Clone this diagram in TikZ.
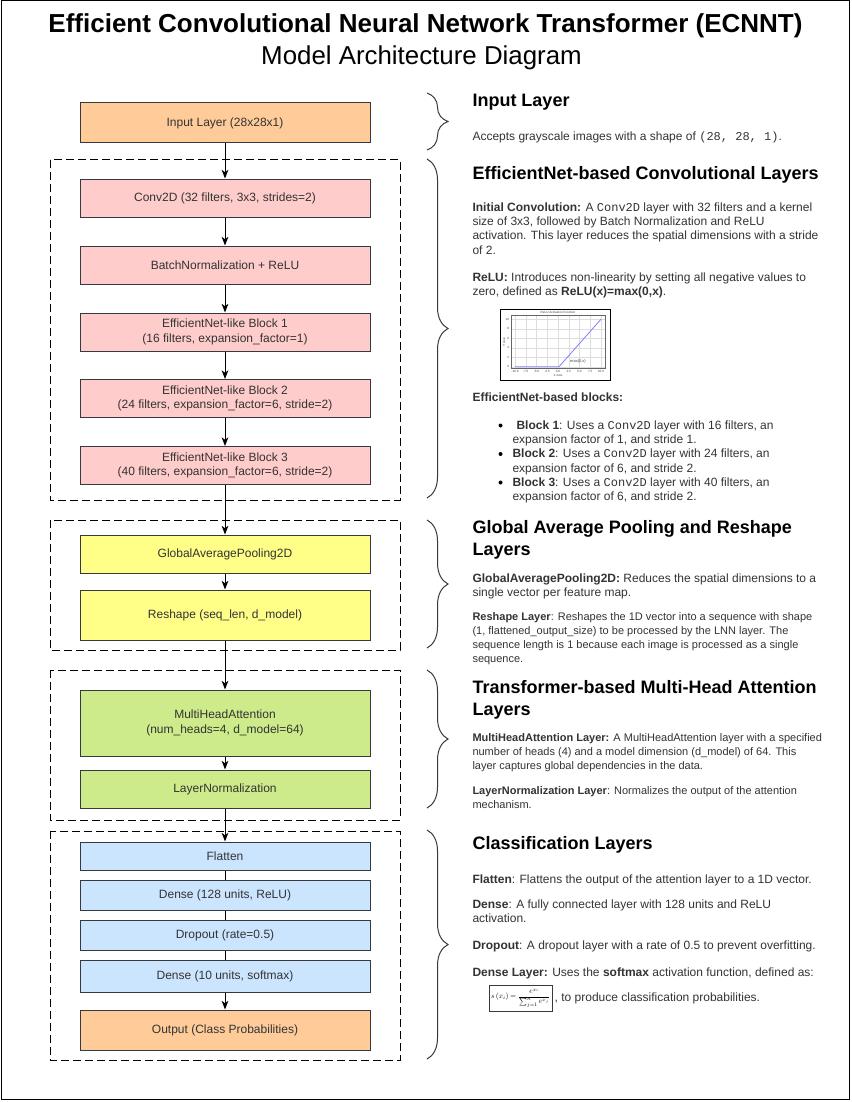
\documentclass[tikz,border=0pt]{standalone}
\usepackage{fontspec}
\setmainfont{Liberation Sans}
\setmonofont{Liberation Mono}
\usetikzlibrary{arrows.meta,decorations.pathreplacing,positioning}

\definecolor{inputorange}{HTML}{FFCC99}
\definecolor{convpink}{HTML}{FFCCCC}
\definecolor{poolyellow}{HTML}{FFFF88}
\definecolor{attgreen}{HTML}{CDEB8B}
\definecolor{clsblue}{HTML}{CCE5FF}
\definecolor{edgegray}{HTML}{36393D}
\definecolor{txtgray}{HTML}{333333}
\definecolor{gridgray}{HTML}{DDDDDD}
\definecolor{relublue}{HTML}{7F7FFF}

\begin{document}
\begin{tikzpicture}[x=0.75pt,y=-0.75pt,line width=0.75pt,
	layer/.style={draw=edgegray, minimum width=217.5pt, inner sep=2pt, align=center, text=txtgray, font=\fontsize{9}{11}\selectfont},
	group/.style={draw=black, dash pattern=on 6pt off 3pt},
	flow/.style={-{Stealth[length=6.5pt,width=5pt,inset=1.8pt]}, black},
	brace/.style={draw=edgegray, decorate, decoration={brace, amplitude=15.75pt}},
	head/.style={anchor=north west, inner sep=0pt, align=left, font=\fontsize{13.5}{16.5}\selectfont\bfseries},
	desc/.style={anchor=north west, inner sep=0pt, align=left, text=txtgray, font=\fontsize{9}{10.8}\selectfont},
	smalldesc/.style={desc, font=\fontsize{8.25}{10.5}\selectfont},
	dot/.style={circle, fill=black, inner sep=0pt, minimum size=3pt},
	plotlabel/.style={inner sep=0pt, text=black!75, font=\fontsize{2.3}{2.6}\selectfont}]
	\useasboundingbox (0,0) rectangle (852,1102);
	\draw (1,1) rectangle (849,1099); %frame

	%title
	\node[font=\fontsize{19.5}{22}\selectfont\bfseries, anchor=base] (title) at (425.5,32.5) {Efficient Convolutional Neural Network Transformer (ECNNT)};
	\node[font=\fontsize{19.4}{22}\selectfont, anchor=base] (subtitle) at (421.5,65) {Model Architecture Diagram};

	%groups
	\draw[group] (50,160) rectangle (400,500); %conv
	\draw[group] (50,520) rectangle (400,650); %pooling
	\draw[group] (50,670) rectangle (400,820); %attention
	\draw[group] (50,831) rectangle (400,1060); %classification

	%layers
	\node[layer, fill=inputorange, minimum height=30pt] (input) at (225,123) {Input Layer (28x28x1)};
	\node[layer, fill=convpink, minimum height=28.5pt] (conv) at (225,198) {Conv2D (32 filters, 3x3, strides=2)};
	\node[layer, fill=convpink, minimum height=28.5pt] (bnrelu) at (225,265) {BatchNormalization + ReLU};
	\node[layer, fill=convpink, minimum height=28.5pt] (blockone) at (225,332) {EfficientNet-like Block 1\\(16 filters, expansion\_factor=1)};
	\node[layer, fill=convpink, minimum height=28.5pt] (blocktwo) at (225,398.5) {EfficientNet-like Block 2\\(24 filters, expansion\_factor=6, stride=2)};
	\node[layer, fill=convpink, minimum height=28.5pt] (blockthree) at (225,465.5) {EfficientNet-like Block 3\\(40 filters, expansion\_factor=6, stride=2)};
	\node[layer, fill=poolyellow, minimum height=28.5pt] (gap) at (225,554) {GlobalAveragePooling2D};
	\node[layer, fill=poolyellow, minimum height=37.5pt] (reshape) at (225,615) {Reshape (seq\_len, d\_model)};
	\node[layer, fill=attgreen, minimum height=49.5pt] (mha) at (225,723) {MultiHeadAttention\\(num\_heads=4, d\_model=64)};
	\node[layer, fill=attgreen, minimum height=28.5pt] (layernorm) at (225,789) {LayerNormalization};
	\node[layer, fill=clsblue, minimum height=21pt] (flatten) at (225,856) {Flatten};
	\node[layer, fill=clsblue, minimum height=22.5pt] (denseone) at (225,895) {Dense (128 units, ReLU)};
	\node[layer, fill=clsblue, minimum height=22.5pt] (dropout) at (225,935) {Dropout (rate=0.5)};
	\node[layer, fill=clsblue, minimum height=24pt] (densetwo) at (225,976) {Dense (10 units, softmax)};
	\node[layer, fill=inputorange, minimum height=30pt] (output) at (225,1030) {Output (Class Probabilities)};

	%connectors
	\draw[flow] (input) -- (conv);
	\draw[flow] (conv) -- (bnrelu);
	\draw[flow] (bnrelu) -- (blockone);
	\draw[flow] (blockone) -- (blocktwo);
	\draw[flow] (blocktwo) -- (blockthree);
	\draw[flow] (blockthree) -- (gap);
	\draw[flow] (gap) -- (reshape);
	\draw[flow] (reshape) -- (mha);
	\draw[flow] (mha) -- (layernorm);
	\draw[flow] (layernorm) -- (flatten);
	\draw (flatten) -- (denseone);
	\draw (denseone) -- (dropout);
	\draw (dropout) -- (densetwo);
	\draw[flow] (densetwo) -- (output);

	%braces
	\draw[brace] (427,93) -- (427,150);
	\draw[brace] (427,159) -- (427,498);
	\draw[brace] (427,520) -- (427,648);
	\draw[brace] (427,670) -- (427,808);
	\draw[brace] (427,830) -- (427,1059);

	%input text
	\node[head] (hinput) at (472,94) {Input Layer};
	\node[desc] (dinput) at (472,131) {Accepts grayscale images with a shape of \texttt{(28, 28, 1)}.};

	%conv text
	\node[head] (hconv) at (472,166) {EfficientNet-based Convolutional Layers};
	\node[desc] (dinit) at (472,202) {\textbf{Initial Convolution:} A \texttt{Conv2D} layer with 32 filters and a kernel\\size of 3x3, followed by Batch Normalization and ReLU\\activation. This layer reduces the spatial dimensions with a stride\\of 2.};
	\node[desc] (drelu) at (472,272) {\textbf{ReLU:} Introduces non-linearity by setting all negative values to\\zero, defined as \textbf{ReLU(x)=max(0,x)}.};

	%relu plot
	\draw (500,309.5) rectangle (610,380);
	\foreach \gx in {-10,-7.5,...,10} \draw[gridgray, line width=0.3pt] ({558+4.3*\gx},315) -- ({558+4.3*\gx},368);
	\foreach \gy in {0,2,...,10} \draw[gridgray, line width=0.3pt] (511,{366.7-4.75*\gy}) -- (605,{366.7-4.75*\gy});
	\draw[black!60, line width=0.3pt] (511,315) rectangle (605,368.5);
	\draw[relublue, line width=0.6pt] (515,366.7) -- (559,366.7) -- (601,319.2);
	\node[plotlabel] (relutitle) at (558,312.5) {ReLU Activation Function};
	\foreach \gx/\gl in {-10/-10.0,-7.5/-7.5,-5/-5.0,-2.5/-2.5,0/0.0,2.5/2.5,5/5.0,7.5/7.5,10/10.0} \node[plotlabel] at ({558+4.3*\gx},371.5) {\gl};
	\foreach \gy in {0,2,...,10} \node[plotlabel, anchor=east] at (509.5,{366.7-4.75*\gy}) {\gy};
	\node[plotlabel] (xaxis) at (558,375.5) {X Axis};
	\node[plotlabel, rotate=90] (yaxis) at (504,342) {Y Axis};
	\node[plotlabel, font=\fontsize{3}{3.5}\selectfont] (relulegend) at (578,361) {max(0,x)};

	%blocks text
	\node[desc] (dblocks) at (472,392) {\textbf{EfficientNet-based blocks:}};
	\node[dot] (dotone) at (500.5,425.5) {};
	\node[desc] (bone) at (512,420) {\hspace*{3pt}\textbf{Block 1}: Uses a \texttt{Conv2D} layer with 16 filters, an\\expansion factor of 1, and stride 1.};
	\node[dot] (dottwo) at (500.5,454) {};
	\node[desc] (btwo) at (512,448.5) {\textbf{Block 2}: Uses a \texttt{Conv2D} layer with 24 filters, an\\expansion factor of 6, and stride 2.};
	\node[dot] (dotthree) at (500.5,482.5) {};
	\node[desc] (bthree) at (512,477) {\textbf{Block 3}: Uses a \texttt{Conv2D} layer with 40 filters, an\\expansion factor of 6, and stride 2.};

	%pooling text
	\node[head] (hpool) at (472,520) {Global Average Pooling and Reshape\\Layers};
	\node[desc] (dgap) at (472,573) {\textbf{GlobalAveragePooling2D:} Reduces the spatial dimensions to a\\single vector per feature map.};
	\node[smalldesc] (dreshape) at (472,612.5) {\textbf{Reshape Layer}: Reshapes the 1D vector into a sequence with shape\\(1, flattened\_output\_size) to be processed by the LNN layer. The\\sequence length is 1 because each image is processed as a single\\sequence.};

	%attention text
	\node[head] (hatt) at (472,680) {Transformer-based Multi-Head Attention\\Layers};
	\node[smalldesc] (dmha) at (472,733.5) {\textbf{MultiHeadAttention Layer:} A MultiHeadAttention layer with a specified\\number of heads (4) and a model dimension (d\_model) of 64. This\\layer captures global dependencies in the data.};
	\node[smalldesc] (dln) at (472,786.5) {\textbf{LayerNormalization Layer}: Normalizes the output of the attention\\mechanism.};

	%classification text
	\node[head] (hcls) at (472,836) {Classification Layers};
	\node[desc] (dflat) at (472,874) {\textbf{Flatten}: Flattens the output of the attention layer to a 1D vector.};
	\node[desc] (ddense) at (472,899) {\textbf{Dense}: A fully connected layer with 128 units and ReLU\\activation.};
	\node[desc] (ddrop) at (472,940) {\textbf{Dropout}: A dropout layer with a rate of 0.5 to prevent overfitting.};
	\node[desc] (dsoft) at (472,967) {\textbf{Dense Layer:} Uses the \textbf{softmax} activation function, defined as:};
	\node[draw=edgegray, line width=0.5pt, minimum width=47pt, minimum height=19.5pt, inner sep=1pt] (softmax) at (520.5,998) {\resizebox{44pt}{!}{$s\left(x_i\right)={\displaystyle\frac{e^{x_i}}{\textstyle\sum_{j=1}^{n}e^{x_j}}}$}};
	\node[desc, right=1.5pt of softmax] (dsofttail) {, to produce classification probabilities.};
\end{tikzpicture}
\end{document}
